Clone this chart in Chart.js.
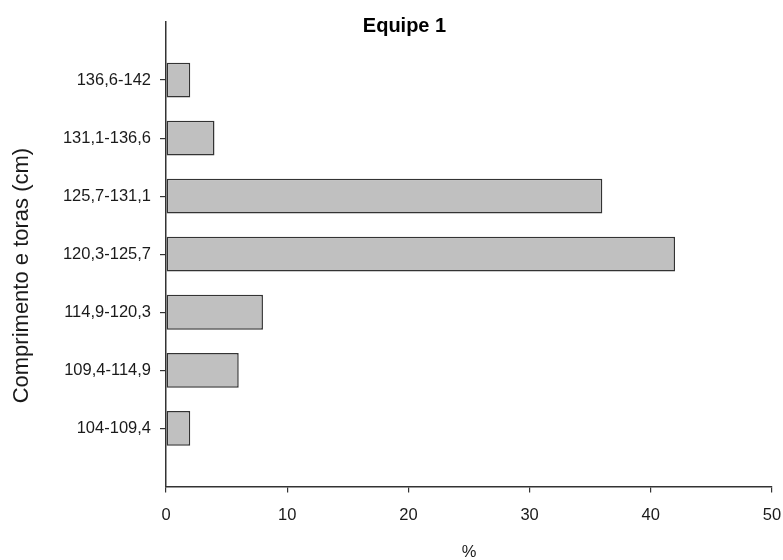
<!DOCTYPE html>
<html>
<head>
  <meta charset="utf-8">
  <title>Equipe 1</title>
  <script src="https://cdn.jsdelivr.net/npm/chart.js"></script>
  <style>
    html, body {
      margin: 0;
      padding: 0;
      background: #ffffff;
      overflow: hidden;
    }
  </style>
</head>
<body>

<canvas id="chart" width="809" height="560"></canvas>

<script>
  // classes de comprimento, de baixo para cima
  const classes = ['104-109,4', '109,4-114,9', '114,9-120,3', '120,3-125,7', '125,7-131,1', '131,1-136,6', '136,6-142'];
  const percent = [2, 6, 8, 42, 36, 4, 2];
  const xTicks = [0, 10, 20, 30, 40, 50];

  const axisColor = '#333333';
  const textColor = '#1a1a1a';
  const family = "'Liberation Sans', Arial, sans-serif";

  const ctx = document.getElementById('chart').getContext('2d');
  const chart = new Chart(ctx, {
    type: 'bar',
    data: {
      datasets: [{
        data: percent.map((v, i) => ({ x: v, y: i + 1 })),
        backgroundColor: '#c0c0c0',
        borderColor: '#333333',
        borderWidth: 1.5,
        borderSkipped: false,
        barPercentage: 0.6,
        categoryPercentage: 1
      }]
    },
    options: {
      indexAxis: 'y',
      responsive: false,
      animation: false,
      layout: { padding: 0 },
      plugins: {
        legend: { display: false },
        tooltip: { enabled: false },
        title: {
          display: true,
          text: 'Equipe 1',
          color: '#000000',
          font: { family: family, size: 20, weight: 'bold' },
          padding: { top: 14, bottom: -16 }
        }
      },
      scales: {
        x: {
          type: 'linear',
          min: 0,
          max: 50,
          afterBuildTicks: s => { s.ticks = xTicks.map(v => ({ value: v })); },
          afterFit: s => { s.paddingRight = 37; },
          ticks: { color: textColor, font: { family: family, size: 16.5 }, padding: 13 },
          grid: { drawOnChartArea: false, tickLength: 6, color: axisColor, lineWidth: 1.2 },
          border: { color: axisColor, width: 1.5 },
          title: {
            display: true,
            text: '%',
            color: textColor,
            font: { family: family, size: 16.5 },
            padding: { top: 4, bottom: -2 }
          }
        },
        y: {
          type: 'linear',
          min: 0,
          max: classes.length + 1,
          offset: false,
          afterBuildTicks: s => { s.ticks = classes.map((c, i) => ({ value: i + 1 })); },
          afterFit: s => { s.width = 166; },
          ticks: {
            color: textColor,
            font: { family: family, size: 16.5 },
            padding: 9,
            callback: v => classes[v - 1]
          },
          grid: { offset: false, drawOnChartArea: false, tickLength: 6, color: axisColor, lineWidth: 1.2 },
          border: { color: axisColor, width: 1.5 },
          title: {
            display: true,
            text: 'Comprimento e toras (cm)       ',
            color: textColor,
            font: { family: family, size: 22 },
            padding: { top: 9, bottom: 0 }
          }
        }
      }
    }
  });
</script>
</body>
</html>
